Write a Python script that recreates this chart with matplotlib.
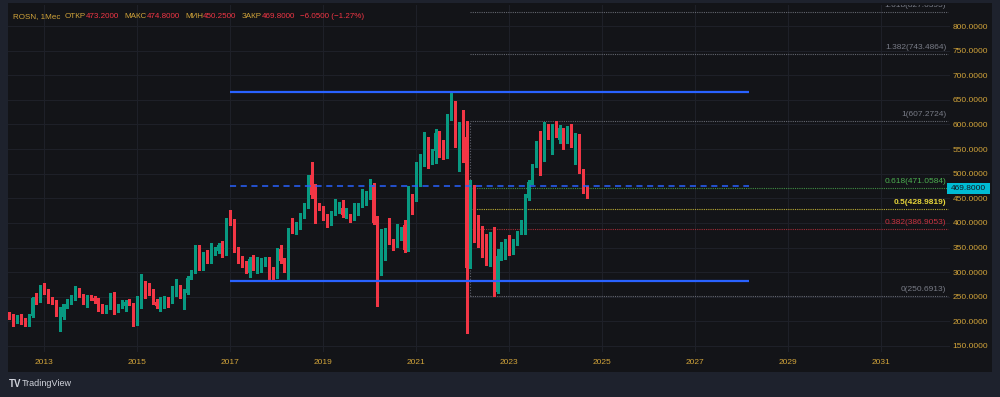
import matplotlib.pyplot as plt
from matplotlib.patches import Rectangle
from matplotlib.transforms import blended_transform_factory

W, H = 1000, 397

# ROSN monthly candles, Apr 2012 .. Sep 2024
start_year, start_month = 2012, 4
opens = [215, 212, 201, 206, 204, 193, 211, 254, 243,
         273, 263, 243, 240, 211, 208, 233, 240, 246, 265, 253, 238,
         252, 248, 242, 233, 221, 229, 252, 222, 233, 232, 243, 235,
         194, 230, 267, 266, 262, 239, 232, 233, 246, 240, 258, 268,
         252, 258, 290, 301, 348, 311, 336, 321, 342, 342, 357, 338,
         406, 404, 346, 328, 319, 298, 327, 301, 305, 319, 326, 304,
         292, 348, 325, 294, 392, 380, 392, 416, 435, 497, 460, 436,
         430, 414, 398, 420, 425, 430, 416, 416, 409, 420, 436, 441,
         453, 478, 409, 320, 328, 382, 364, 355, 372, 396, 344, 448,
         448, 481, 521, 569, 527, 546, 582, 548, 540, 617, 643, 570,
         599, 575, 311, 450, 413, 392, 375, 318, 375, 260, 331, 335,
         372, 344, 360, 382, 392, 450, 484, 516, 560, 528, 582, 572,
         606, 569, 579, 567, 582, 527, 577, 508, 473.2]
highs = [219, 215, 212, 215, 207, 216, 250, 258, 274,
         278, 265, 250, 243, 230, 236, 246, 253, 271, 268, 255, 254,
         254, 252, 247, 236, 234, 258, 260, 235, 243, 244, 245, 238,
         252, 296, 282, 277, 266, 245, 250, 252, 250, 272, 287, 274,
         265, 292, 305, 356, 356, 340, 345, 360, 352, 360, 364, 410,
         426, 408, 352, 333, 322, 330, 335, 330, 328, 330, 330, 310,
         350, 355, 328, 390, 410, 402, 420, 440, 498, 524, 480, 440,
         434, 418, 424, 448, 442, 446, 430, 418, 440, 440, 468, 465,
         490, 481, 415, 387, 390, 410, 368, 397, 392, 405, 474, 459,
         524, 540, 584, 575, 550, 590, 587, 569, 622, 664, 647, 604,
         630, 607.27, 487, 477, 417, 394, 378, 382, 392, 348, 362, 368,
         376, 367, 384, 405, 459, 488, 520, 566, 586, 606, 601, 601,
         608, 599, 593, 596, 601, 582, 580, 510, 474.8]
lows = [205, 190, 196, 195, 190, 190, 208, 236, 240,
        255, 238, 236, 210, 180, 205, 227, 236, 243, 249, 236, 230,
        243, 238, 222, 218, 218, 225, 215, 220, 228, 222, 233, 190,
        192, 228, 248, 254, 235, 228, 222, 228, 230, 238, 252, 248,
        226, 255, 286, 298, 305, 305, 318, 318, 335, 338, 330, 335,
        395, 340, 318, 310, 298, 290, 305, 298, 300, 312, 285, 285,
        288, 318, 300, 283, 380, 378, 388, 410, 430, 450, 399, 426,
        405, 392, 395, 416, 420, 412, 410, 402, 405, 416, 432, 436,
        448, 398, 232, 294, 325, 358, 345, 352, 366, 340, 342, 418,
        445, 476, 516, 512, 520, 522, 533, 530, 532, 610, 555, 505,
        524, 177, 308, 361, 352, 330, 315, 312, 250.69, 257, 325, 327,
        335, 337, 355, 377, 378, 447, 480, 513, 497, 525, 570, 540,
        575, 562, 550, 562, 555, 520, 502, 460, 450.25]
closes = [209, 205, 207, 199, 194, 214, 247, 240, 272,
          260, 241, 238, 213, 214, 235, 240, 249, 265, 252, 238, 253,
          246, 241, 229, 222, 231, 252, 220, 233, 241, 240, 236, 196,
          229, 267, 252, 256, 238, 231, 237, 248, 234, 266, 282, 252,
          258, 288, 300, 350, 311, 333, 321, 342, 345, 355, 337, 405,
          399, 344, 325, 315, 301, 326, 311, 321, 322, 326, 290, 289,
          345, 322, 313, 386, 386, 392, 416, 435, 495, 457, 421, 430,
          409, 396, 421, 428, 439, 416, 422, 406, 426, 436, 464, 457,
          480, 400, 319, 336, 380, 361, 352, 376, 387, 345, 448, 433,
          479, 535, 567, 523, 546, 582, 543, 540, 620, 643, 569, 599,
          569, 308, 450, 409, 376, 348, 347, 379, 264, 333, 338, 365,
          342, 363, 382, 402, 453, 484, 518, 558, 536, 581, 572, 596,
          579, 592, 565, 590, 555, 579, 504, 475.85, 469.8]

years = [2013, 2015, 2017, 2019, 2021, 2023, 2025, 2027, 2029, 2031]
price_ticks = [150, 200, 250, 300, 350, 400, 450, 500, 550, 600, 650, 700, 750, 800]

# drawn levels
range_top, range_bottom, range_mid = 665, 283, 474
range_from, range_to = (2017, 1), (2028, 2)
fib_low, fib_high = 250.6913, 607.2724
fib_ratios = [0, 0.382, 0.5, 0.618, 1, 1.382, 1.618]
fib_colors = ['#787b86', '#c8323f', '#e5d33a', '#4caf50', '#787b86', '#787b86', '#787b86']
fib_from, fib_to = (2022, 3), (2032, 6)
last_price = 469.8

BG = '#131418'
FRAME = '#1e222d'
GRID = '#1e2028'
GOLD = '#d2a43a'
UP, DOWN = '#089981', '#f23645'


def idx(y, m):
    return (y - start_year) * 12 + (m - start_month)


def px(x, y):
    return x / W, 1 - y / H


plt.rcParams['font.family'] = ['Liberation Sans', 'DejaVu Sans']
fig = plt.figure(figsize=(W / 100, H / 100), dpi=100, facecolor=FRAME)

# pane background
fig.patches.append(Rectangle(px(7.5, 372), 984.5 / W, 369 / H, transform=fig.transFigure,
                             facecolor=BG, edgecolor='none', zorder=-5))

left, right, top, bottom = 7.5, 950, 5, 352
ax = fig.add_axes([left / W, 1 - bottom / H, (right - left) / W, (bottom - top) / H])
ax.set_facecolor(BG)
for s in ax.spines.values():
    s.set_visible(False)

# pixel scale: 3.875 px per month, 0.4923 px per rouble
xs = list(range(len(opens)))
ax.set_xlim((left - 9.3) / 3.875, (right - 9.3) / 3.875)
ax.set_ylim(150 - (bottom - 346) / 0.4923, 150 + (346 - top) / 0.4923)

ax.set_xticks([idx(y, 1) for y in years])
ax.set_xticklabels([str(y) for y in years])
ax.set_yticks(price_ticks)
ax.set_yticklabels(['%.4f' % p for p in price_ticks])
ax.yaxis.tick_right()
ax.tick_params(axis='both', length=0, colors=GOLD, labelsize=6)
ax.tick_params(axis='y', pad=2)
ax.tick_params(axis='x', pad=5)
ax.grid(True, color=GRID, lw=0.8)
ax.set_axisbelow(True)

# candles
cols = [UP if c >= o else DOWN for o, c in zip(opens, closes)]
ax.vlines(xs, lows, highs, colors=cols, lw=1.0, antialiased=False, zorder=3)
bot = [min(o, c) for o, c in zip(opens, closes)]
hgt = [max(abs(c - o), 2) for o, c in zip(opens, closes)]
ax.bar(xs, hgt, bottom=bot, width=0.6, color=cols, lw=0, zorder=4)

# horizontal range lines
x0, x1 = idx(*range_from), idx(*range_to) + 0.9
ax.hlines([range_top, range_bottom], x0, x1, colors='#2962ff', lw=1.6, zorder=5)
ax.hlines(range_mid, x0, x1, colors='#2962ff', lw=1.1, linestyles=(0, (4, 3)), zorder=5)

# fibonacci retracement
f0, f1 = idx(*fib_from), idx(*fib_to) + 0.3
ax.vlines(f0, fib_low, fib_high, colors='#5d606b', lw=0.8, linestyles=(0, (1, 1.5)), zorder=2)
for r, c in zip(fib_ratios, fib_colors):
    lv = fib_low + r * (fib_high - fib_low)
    ax.hlines(lv, f0, f1, colors=c, lw=0.8, linestyles=(0, (1, 1)), alpha=0.8, zorder=2)
    lab = ('%g' % r) + '(%.4f)' % lv
    ax.text(f1 - 0.5, lv + 13.5, lab, color=c, fontsize=6, ha='right', va='center',
            fontweight='bold' if r == 0.5 else 'normal', zorder=6, clip_on=True)

# last price tag
bt = blended_transform_factory(ax.transAxes, ax.transData)
tag_x = (946.7 - left) / (right - left)
ax.add_patch(Rectangle((tag_x, last_price - 11), 43 / (right - left), 22, transform=bt,
                       facecolor='#00bcd4', edgecolor='none', clip_on=False, zorder=7))
ax.text(tag_x + 21.5 / (right - left), last_price, '%.4f' % last_price, transform=bt,
        ha='center', va='center', fontsize=6, color='#131722', zorder=8, clip_on=False)

# legend line, placed piece after piece
chg = closes[-2] - closes[-1]
parts = [('ROSN, 1Мес', GOLD, 5), ('ОТКР', GOLD, 0), ('%.4f' % opens[-1], DOWN, 5),
         ('МАКС', GOLD, 0), ('%.4f' % highs[-1], DOWN, 5),
         ('МИН', GOLD, 0), ('%.4f' % lows[-1], DOWN, 5),
         ('ЗАКР', GOLD, 0), ('%.4f' % closes[-1], DOWN, 5),
         ('−%.4f (−%.2f%%)' % (chg, chg / closes[-2] * 100), DOWN, 0)]
renderer = fig.canvas.get_renderer()
x = 12.7
for s, c, gap in parts:
    t = fig.text(*px(x, 17), s, color=c, fontsize=5.8, va='center', ha='left')
    bb = t.get_window_extent(renderer)
    x = bb.x1 + gap

# watermark
fig.text(*px(9, 384), 'TV', color='#d1d4dc', fontsize=7, fontweight='bold', va='center')
fig.text(*px(22, 384), 'TradingView', color='#d1d4dc', fontsize=6.5, va='center')

fig.savefig('out.png', dpi=100, facecolor=FRAME)
